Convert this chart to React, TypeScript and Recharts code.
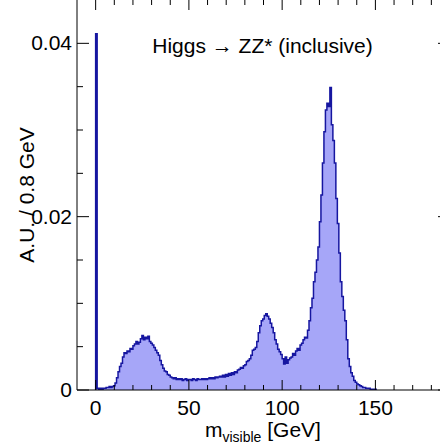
import { ComposedChart, Area, Line, XAxis, YAxis, Label } from "recharts";

const FONT = "'Liberation Sans', Arial, Helvetica, sans-serif";

// histogram bins, 0.8 GeV wide, starting at 0 GeV
const BIN_WIDTH = 0.8;

// 0 - 40 GeV: spike at zero and the low mass bump
const lowMassBins = [
  0.0411,
  0.0002, 0.0001, 0.0002, 0.0001, 0.0002, 0.0002, 0.0003, 0.0003, 0.0004, 0.0003, 0.0004, 0.0005,
  0.0008, 0.0014, 0.0021, 0.0027, 0.0031, 0.0038, 0.0043, 0.0042, 0.0045, 0.0044, 0.0048, 0.0047,
  0.0051, 0.0053, 0.0056, 0.0053, 0.0055, 0.0059, 0.0063, 0.0058, 0.0061, 0.0059, 0.0062, 0.0056,
  0.0054, 0.0052, 0.0049, 0.0046, 0.0043, 0.004, 0.0034, 0.0029, 0.0025, 0.0022, 0.0021, 0.0018, 0.0017,
];

// 40 - 100 GeV: continuum and the Z peak
const zPeakBins = [
  0.0015, 0.0014, 0.0013, 0.0014, 0.0012, 0.0013, 0.0012, 0.0013, 0.0011, 0.0012, 0.0013, 0.0011,
  0.0012, 0.0012, 0.0011, 0.0013, 0.0012, 0.0011, 0.0013, 0.0012, 0.0012, 0.0013, 0.0012, 0.0013,
  0.0012, 0.0013, 0.0014, 0.0013, 0.0014, 0.0013, 0.0015, 0.0014, 0.0015, 0.0016, 0.0015, 0.0017,
  0.0015, 0.0018, 0.0016, 0.0019, 0.0017, 0.002, 0.0018, 0.0021, 0.002, 0.0023, 0.0024, 0.0026,
  0.0025, 0.0028, 0.0029, 0.0033, 0.0034, 0.0036, 0.004, 0.0046, 0.0047, 0.0049, 0.0056, 0.0066,
  0.0074, 0.008, 0.0082, 0.0086, 0.0088, 0.0085, 0.0082, 0.0077, 0.0072, 0.0066, 0.0058, 0.0053, 0.0047, 0.0044, 0.0041,
];

// 100 - 150 GeV: the Higgs peak and its tail
const higgsBins = [
  0.0036, 0.003, 0.0038, 0.0031, 0.0035, 0.0037, 0.0038, 0.0042, 0.004, 0.0045, 0.0048, 0.0046,
  0.0052, 0.0054, 0.0058, 0.0061, 0.006, 0.0069, 0.008, 0.0095, 0.0106, 0.0125, 0.0136, 0.015,
  0.0165, 0.0194, 0.0225, 0.0262, 0.0298, 0.0323, 0.0331, 0.0327, 0.0349, 0.0306, 0.0288, 0.0262,
  0.0221, 0.0192, 0.0158, 0.0125, 0.0108, 0.0092, 0.008, 0.0058, 0.0036, 0.0027, 0.002, 0.0016,
  0.0011, 0.0009, 0.0007, 0.0006, 0.0005, 0.0004, 0.0003, 0.0003, 0.0002, 0.0002, 0.0002, 0.0001, 0.0001, 0.0001, 0.0001,
];

const xTicks = [0, 10, 20, 30, 40, 50, 60, 70, 80, 90, 100, 110, 120, 130, 140, 150, 160, 170, 180];
const xMajorTicks = [0, 50, 100, 150];
const yTicks = [0, 0.005, 0.01, 0.015, 0.02, 0.025, 0.03, 0.035, 0.04];
const yMajorTicks = [0, 0.02, 0.04];

const binValues = [...lowMassBins, ...zPeakBins, ...higgsBins];
const histData = [
  { m: 0, y: 0 },
  ...binValues.map((v, i) => ({ m: i * BIN_WIDTH, y: v })),
  { m: binValues.length * BIN_WIDTH, y: 0 },
];

function BottomTick({ x, y, payload }: any) {
  const major = xMajorTicks.includes(payload.value);
  return (
    <g>
      <line x1={x} y1={y} x2={x} y2={y - (major ? 10 : 5)} stroke="#000" />
      {major && (
        <text x={x} y={y + 25} textAnchor="middle" fontSize={21} fontFamily={FONT} fill="#000">
          {payload.value}
        </text>
      )}
    </g>
  );
}

function TopTick({ x, y, payload }: any) {
  const major = xMajorTicks.includes(payload.value);
  return <line x1={x} y1={y} x2={x} y2={y + (major ? 10 : 5)} stroke="#000" />;
}

// left axis ticks, plus the mirrored ticks on the right frame edge
function LeftTick({ x, y, payload }: any) {
  const major = yMajorTicks.includes(payload.value);
  const len = major ? 12 : 6;
  return (
    <g>
      <line x1={x} y1={y} x2={x + len} y2={y} stroke="#000" />
      <line x1={x + 373} y1={y} x2={x + 373 - len} y2={y} stroke="#000" />
      {major && (
        <text x={x - 5} y={y + 7} textAnchor="end" fontSize={21} fontFamily={FONT} fill="#000">
          {String(payload.value)}
        </text>
      )}
    </g>
  );
}

function XTitle({ viewBox }: any) {
  return (
    <text x={viewBox.x + 128} y={viewBox.y + 47} fontSize={21} fontFamily={FONT} fill="#000">
      m
      <tspan fontSize={14} dy={5}>visible</tspan>
      <tspan fontSize={21} dy={-5}> [GeV]</tspan>
    </text>
  );
}

function YTitle({ viewBox }: any) {
  const cx = viewBox.x + 34;
  const cy = viewBox.y + 195;
  return (
    <text
      x={cx}
      y={cy}
      transform={`rotate(-90, ${cx}, ${cy})`}
      textAnchor="middle"
      fontSize={21}
      fontFamily={FONT}
      fill="#000"
    >
      A.U. / 0.8 GeV
    </text>
  );
}

function PlotTitle({ viewBox }: any) {
  return (
    <text x={viewBox.x + 185.5} y={viewBox.y + 54} textAnchor="middle" fontSize={21} fontFamily={FONT} fill="#000">
      Higgs → ZZ* (inclusive)
    </text>
  );
}

export default function App() {
  return (
    <div style={{ position: "fixed", left: 0, top: 0, width: 440, height: 447, overflow: "hidden", background: "#fff" }}>
      <div style={{ position: "absolute", left: 0, top: -20 }}>
        <ComposedChart
          width={470}
          height={467}
          data={histData}
          margin={{ top: 19, right: 20, bottom: 0, left: 0 }}
        >
          <XAxis
            xAxisId="bottom"
            dataKey="m"
            type="number"
            domain={[-10, 190]}
            ticks={xTicks}
            interval={0}
            tickSize={0}
            tickMargin={0}
            tickLine={false}
            axisLine={{ stroke: "#000" }}
            tick={<BottomTick />}
            height={57}
          >
            <Label content={<XTitle />} />
          </XAxis>
          <XAxis
            xAxisId="top"
            orientation="top"
            dataKey="m"
            type="number"
            domain={[-10, 190]}
            ticks={xTicks}
            interval={0}
            tickSize={0}
            tickMargin={0}
            tickLine={false}
            axisLine={false}
            tick={<TopTick />}
            height={1}
          >
            <Label content={<PlotTitle />} />
          </XAxis>
          <YAxis
            yAxisId="left"
            type="number"
            domain={[0, 0.045]}
            ticks={yTicks}
            interval={0}
            tickSize={0}
            tickMargin={0}
            tickLine={false}
            axisLine={{ stroke: "#000" }}
            tick={<LeftTick />}
            width={77}
          >
            <Label content={<YTitle />} />
          </YAxis>
          <Area
            xAxisId="bottom"
            yAxisId="left"
            type="stepAfter"
            dataKey="y"
            stroke="#1616a0"
            strokeWidth={1.5}
            fill="#a6a6f8"
            fillOpacity={1}
            dot={false}
            activeDot={false}
            isAnimationActive={false}
          />
          <Line
            xAxisId="top"
            yAxisId="left"
            dataKey="y"
            stroke="none"
            dot={false}
            activeDot={false}
            isAnimationActive={false}
          />
        </ComposedChart>
      </div>
    </div>
  );
}
